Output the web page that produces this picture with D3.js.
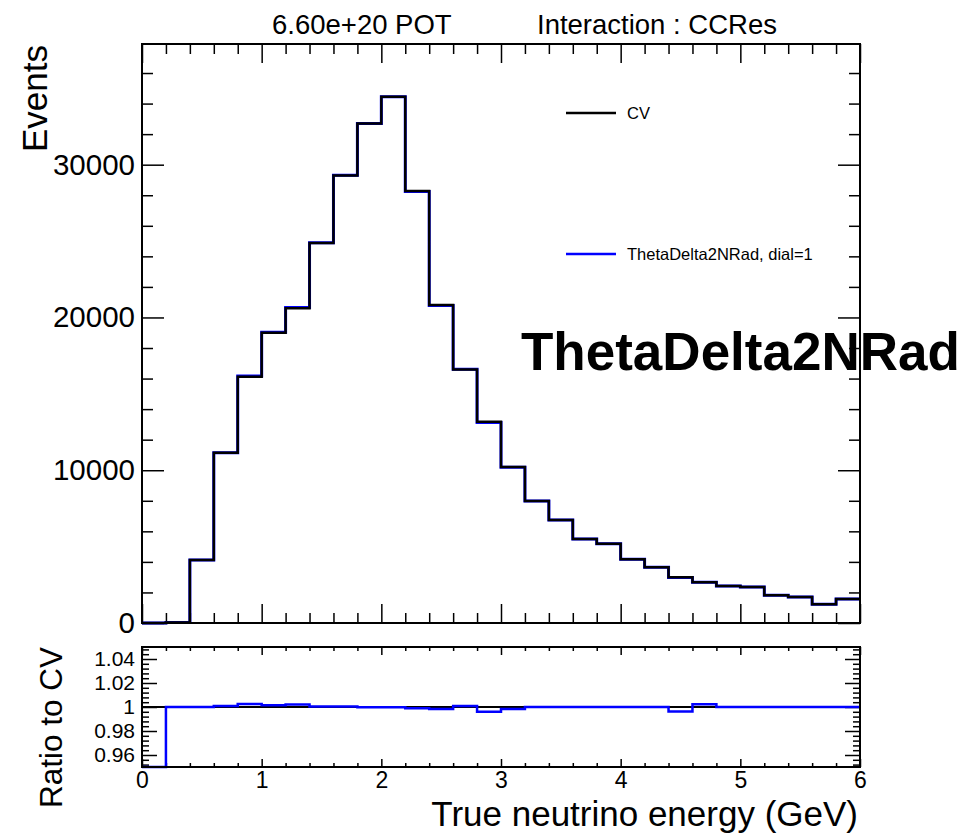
<!DOCTYPE html>
<html>
<head>
<meta charset="utf-8">
<script src="https://cdn.jsdelivr.net/npm/d3@7"></script>
<style>
  body { margin: 0; background: #fff; }
  text { font-family: "Liberation Sans", Arial, Helvetica, sans-serif; fill: #000; }
</style>
</head>
<body>
<svg id="chart" width="960" height="834"></svg>
<script>
// bin edges, 0.2 GeV wide
var binEdges = [0, 0.2, 0.4, 0.6, 0.8, 1.0, 1.2, 1.4, 1.6, 1.8, 2.0, 2.2, 2.4, 2.6, 2.8, 3.0,
                3.2, 3.4, 3.6, 3.8, 4.0, 4.2, 4.4, 4.6, 4.8, 5.0, 5.2, 5.4, 5.6, 5.8, 6.0];

// CV events per bin
var cvEvents = [0, 40, 4120, 11140, 16120, 19000, 20600, 24880, 29300, 32700,
                34450, 28270, 20810, 16590, 13180, 10210, 7990, 6745, 5500, 5195,
                4170, 3650, 2990, 2665, 2420, 2360, 1810, 1700, 1220, 1570];

// ThetaDelta2NRad, dial=1 events per bin
var dialEvents = [0, 40, 4120, 11149, 16160, 19027, 20645, 24890, 29312, 32693,
                  34443, 28242, 20775, 16603, 13129, 10193, 7990, 6745, 5500, 5195,
                  4170, 3650, 2979, 2671, 2420, 2360, 1810, 1700, 1220, 1570];

var xTicks = [0, 1, 2, 3, 4, 5, 6];
var xTickLabels = ["0", "1", "2", "3", "4", "5", "6"];
var yTicks = [0, 10000, 20000, 30000];
var yTickLabels = ["0", "10000", "20000", "30000"];
var ratioTicks = [0.96, 0.98, 1, 1.02, 1.04];
var ratioTickLabels = ["0.96", "0.98", "1", "1.02", "1.04"];

var legendNames = ["CV", "ThetaDelta2NRad, dial=1"];
var legendColors = ["#000000", "#0000ff"];

var svg = d3.select("#chart");

// frames
var left = 142, right = 860;
var mainTop = 44, mainBottom = 623;
var ratioTop = 647, ratioBottom = 767;

var x = d3.scaleLinear().domain([0, 6]).range([left, right]);
var y = d3.scaleLinear().domain([0, 37900]).range([mainBottom, mainTop]);
var yr = d3.scaleLinear().domain([0.95, 1.05]).range([ratioBottom, ratioTop]).clamp(true);

var xMinor = d3.range(0, 6.0001, 0.2).filter(function (v) { return Math.abs(v - Math.round(v)) > 1e-6; });
var yMinor = d3.range(0, 37900, 2000).filter(function (v) { return v % 10000 !== 0; });
var rMinor = d3.range(0.952, 1.0501, 0.004).filter(function (v) {
    return ratioTicks.every(function (t) { return Math.abs(t - v) > 1e-6; });
});

function addAxis(axis, tx, ty) {
    var g = svg.append("g").attr("transform", "translate(" + tx + "," + ty + ")").call(axis);
    g.select(".domain").remove();
    g.selectAll(".tick line").attr("stroke", "#000").attr("stroke-width", 1.5);
    return g;
}

// histogram as a step line
function stepPoints(vals, yScale) {
    var pts = vals.map(function (v, i) { return [binEdges[i], v]; });
    pts.push([binEdges[binEdges.length - 1], vals[vals.length - 1]]);
    return d3.line()
        .x(function (d) { return x(d[0]); })
        .y(function (d) { return yScale(d[1]); })
        .curve(d3.curveStepAfter)(pts);
}

// ---- main panel ----
addAxis(d3.axisBottom(x).tickValues(xTicks).tickSize(-19).tickFormat(""), 0, mainBottom);
addAxis(d3.axisBottom(x).tickValues(xMinor).tickSize(-10).tickFormat(""), 0, mainBottom);
addAxis(d3.axisTop(x).tickValues(xTicks).tickSize(-19).tickFormat(""), 0, mainTop);
addAxis(d3.axisTop(x).tickValues(xMinor).tickSize(-10).tickFormat(""), 0, mainTop);

var yAx = addAxis(d3.axisLeft(y).tickValues(yTicks).tickSize(-22).tickPadding(7)
    .tickFormat(function (d, i) { return yTickLabels[i]; }), left, 0);
yAx.selectAll("text").style("font-size", "29.5px");
addAxis(d3.axisLeft(y).tickValues(yMinor).tickSize(-11).tickFormat(""), left, 0);
addAxis(d3.axisRight(y).tickValues(yTicks).tickSize(-22).tickFormat(""), right, 0);
addAxis(d3.axisRight(y).tickValues(yMinor).tickSize(-11).tickFormat(""), right, 0);

svg.append("path").attr("d", stepPoints(dialEvents, y))
    .attr("fill", "none").attr("stroke", "#0000ff").attr("stroke-width", 3);
svg.append("path").attr("d", stepPoints(cvEvents, y))
    .attr("fill", "none").attr("stroke", "#000").attr("stroke-width", 2.5);

svg.append("rect").attr("x", left).attr("y", mainTop)
    .attr("width", right - left).attr("height", mainBottom - mainTop)
    .attr("fill", "none").attr("stroke", "#000").attr("stroke-width", 2);

// legend
var legendY = [113, 254];
legendNames.forEach(function (name, i) {
    svg.append("line").attr("x1", 566).attr("x2", 616)
        .attr("y1", legendY[i]).attr("y2", legendY[i])
        .attr("stroke", legendColors[i]).attr("stroke-width", 2.5);
    svg.append("text").attr("x", 627).attr("y", legendY[i]).attr("dy", "0.35em")
        .style("font-size", "16.5px").text(name);
});

svg.append("text").attr("x", 521).attr("y", 370)
    .style("font-size", "53px").style("font-weight", "bold").text("ThetaDelta2NRad");

svg.append("text").attr("x", 272).attr("y", 34).style("font-size", "27.5px").text("6.60e+20 POT");
svg.append("text").attr("x", 537).attr("y", 34).style("font-size", "27.5px").text("Interaction : CCRes");

svg.append("text").attr("transform", "translate(47,45) rotate(-90)")
    .attr("text-anchor", "end").style("font-size", "35px").text("Events");

// ---- ratio panel ----
var xr = addAxis(d3.axisBottom(x).tickValues(xTicks).tickSize(-8).tickPadding(5)
    .tickFormat(function (d, i) { return xTickLabels[i]; }), 0, ratioBottom);
xr.selectAll("text").style("font-size", "23px");
addAxis(d3.axisBottom(x).tickValues(xMinor).tickSize(-4).tickFormat(""), 0, ratioBottom);
addAxis(d3.axisTop(x).tickValues(xTicks).tickSize(-8).tickFormat(""), 0, ratioTop);
addAxis(d3.axisTop(x).tickValues(xMinor).tickSize(-4).tickFormat(""), 0, ratioTop);

var yrAx = addAxis(d3.axisLeft(yr).tickValues(ratioTicks).tickSize(-15).tickPadding(7)
    .tickFormat(function (d, i) { return ratioTickLabels[i]; }), left, 0);
yrAx.selectAll("text").style("font-size", "21px");
addAxis(d3.axisLeft(yr).tickValues(rMinor).tickSize(-7).tickFormat(""), left, 0);
addAxis(d3.axisRight(yr).tickValues(ratioTicks).tickSize(-15).tickFormat(""), right, 0);
addAxis(d3.axisRight(yr).tickValues(rMinor).tickSize(-7).tickFormat(""), right, 0);

var ratio = dialEvents.map(function (v, i) { return cvEvents[i] > 0 ? v / cvEvents[i] : 0; });

svg.append("line").attr("x1", x(0)).attr("x2", x(6)).attr("y1", yr(1)).attr("y2", yr(1))
    .attr("stroke", "#000").attr("stroke-width", 2);
svg.append("path").attr("d", stepPoints(ratio, yr))
    .attr("fill", "none").attr("stroke", "#0000ff").attr("stroke-width", 2.5);

svg.append("rect").attr("x", left).attr("y", ratioTop)
    .attr("width", right - left).attr("height", ratioBottom - ratioTop)
    .attr("fill", "none").attr("stroke", "#000").attr("stroke-width", 2);

svg.append("text").attr("transform", "translate(62,647) rotate(-90)")
    .attr("text-anchor", "end").style("font-size", "31.5px").text("Ratio to CV");

svg.append("text").attr("x", 858).attr("y", 826).attr("text-anchor", "end")
    .style("font-size", "35px").text("True neutrino energy (GeV)");
</script>
</body>
</html>
